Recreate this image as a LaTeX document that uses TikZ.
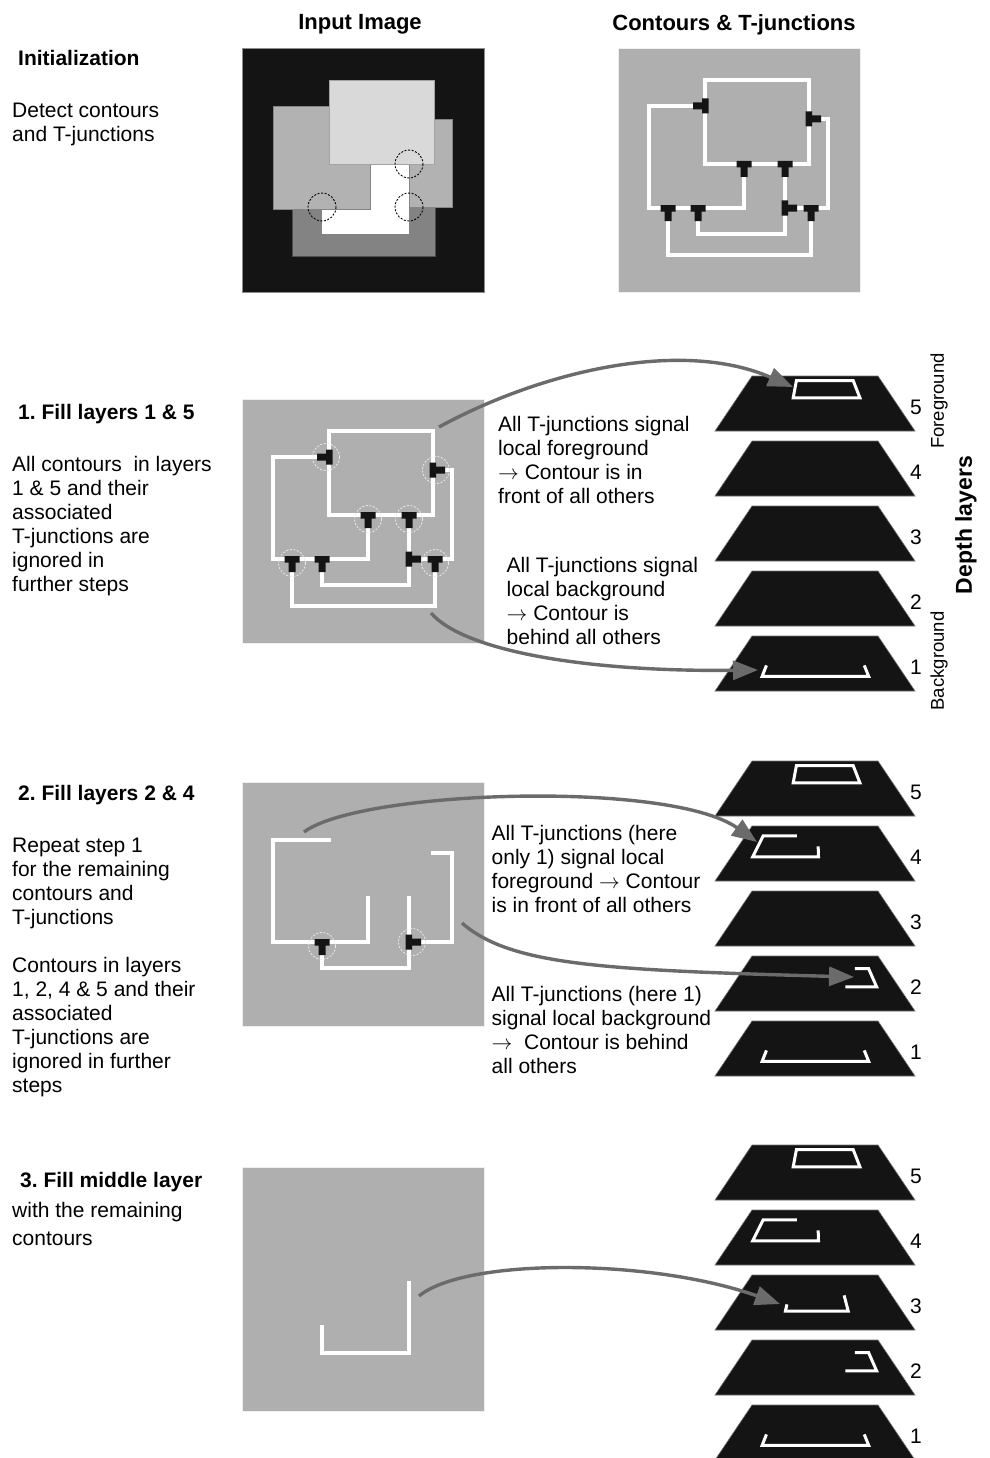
\documentclass[tikz,border=0pt]{standalone}
\usepackage{fontspec}
\setmainfont{Liberation Sans}
\usetikzlibrary{arrows.meta}
\frenchspacing
\definecolor{imgblack}{HTML}{141414}
\definecolor{panelgray}{HTML}{AFAFAF}
\definecolor{lightrect}{HTML}{D9D9D9}
\definecolor{midrect}{HTML}{B2B2B2}
\definecolor{darkrect}{HTML}{838383}
\definecolor{arrgray}{HTML}{6B6B6B}
\newcommand\myContA{\draw[cont] (87,32) rectangle (191,116);}
\newcommand\myContB{\draw[cont] (87,58) -- (31,58) -- (31,160) -- (126,160) -- (126,116);}
\newcommand\myContC{\draw[cont] (191,71) -- (210,71) -- (210,160) -- (167,160);}
\newcommand\myContD{\draw[cont] (167,116) -- (167,186) -- (80,186) -- (80,160);}
\newcommand\myContE{\draw[cont] (50,160) -- (50,207) -- (193,207) -- (193,160);}
\newcommand\myTS[2]{\fill[tj,shift={(#1,#2)}] (-7.5,-3) rectangle (7.5,3.5) (-3.5,3) rectangle (3.5,13);}
\newcommand\myTW[2]{\fill[tj,shift={(#1,#2)}] (-3,-7.5) rectangle (3.5,7.5) (-3,-3.5) rectangle (-12,3.5);}
\newcommand\myTE[2]{\fill[tj,shift={(#1,#2)}] (-3.5,-7.5) rectangle (3,7.5) (3,-3.5) rectangle (12,3.5);}
\newcommand\myLayer[1]{\fill[layerstyle] (752,#1) -- (878,#1) -- (915,#1+55) -- (715,#1+55) -- cycle;}
\newcommand\myLA[1]{\draw[lcont,shift={(0,#1)}] (796.4,4.6) -- (853.2,4.6) -- (859.9,21.8) -- (793.2,21.8) -- cycle;}
\newcommand\myLB[1]{\draw[lcont,shift={(0,#1)}] (795.4,9.9) -- (763.2,9.9) -- (752.7,30.8) -- (818.5,30.8) -- (818.2,21.8);}
\newcommand\myLC[1]{\draw[lcont,shift={(0,#1)}] (856.3,12.6) -- (868.6,12.6) -- (876.6,30.8) -- (846.8,30.8);}
\newcommand\myLD[1]{\draw[lcont,shift={(0,#1)}] (844.5,21.8) -- (848.2,36.1) -- (785.4,36.1) -- (786.6,30.8);}
\newcommand\myLE[1]{\draw[lcont,shift={(0,#1)}] (765.9,30.8) -- (762.1,40.4) -- (868.7,40.4) -- (864.8,30.8);}
\begin{document}
\begin{tikzpicture}[x=1pt,y=-1pt,
  cont/.style={draw=white,line width=3.2pt,line join=miter,line cap=rect},
  lcont/.style={draw=white,line width=3pt,line join=miter,line cap=rect},
  tj/.style={fill=imgblack},
  wcirc/.style={draw=white!92!black,line width=0.8pt,dash pattern=on 2pt off 1.6pt},
  bcirc/.style={draw=black,line width=0.9pt,dash pattern=on 2pt off 1.6pt},
  panel/.style={fill=panelgray,draw=white!80!panelgray,line width=0.8pt},
  layerstyle/.style={fill=imgblack,draw=black!55,line width=0.6pt},
  arr/.style={draw=arrgray,line width=3.4pt,-{Triangle[length=25pt,width=19pt]}},
  txt/.style={font=\fontsize{21}{24}\selectfont,inner sep=0pt,align=left,anchor=north west},
  bold/.style={font=\fontsize{21}{24}\selectfont\bfseries,inner sep=0pt,align=left,anchor=north west},
  head/.style={font=\fontsize{22}{24}\selectfont\bfseries,inner sep=0pt,anchor=base},
  num/.style={font=\fontsize{21}{24}\selectfont,inner sep=0pt}
]
\useasboundingbox (0,0) rectangle (989,1458);
\fill[white] (0,0) rectangle (989,1458);

% headers
\node[head] (hin) at (360,29.5) {Input Image};
\node[head] (hct) at (734,30.5) {Contours \& T-junctions};

% left texts
\node[bold] (t0) at (18,50.5) {Initialization};
\node[txt] (t0b) at (12,102.5) {Detect contours\\and T-junctions};
\node[bold] (t1) at (18,404) {1. Fill layers 1 \& 5};
\node[txt] (t1b) at (12,455.8) {All contours\ \ in layers\\1 \& 5 and their\\associated\\T-junctions are\\ignored in\\further steps};
\node[bold] (t2) at (18,785.5) {2. Fill layers 2 \& 4};
\node[txt] (t2b) at (12,837.5) {Repeat step 1\\for the remaining\\contours and\\T-junctions};
\node[txt] (t2c) at (12,957.5) {Contours in layers\\1, 2, 4 \& 5 and their\\associated\\T-junctions are\\ignored in further\\steps};
\node[bold] (t3) at (20,1172.5) {3. Fill middle layer};
\node[txt] (t3b) at (12,1202.5) {with the remaining};
\node[txt] (t3c) at (12,1231.5) {contours};

% middle texts
\node[txt] (m1) at (498,415.8) {All T-junctions signal\\local foreground\\$\rightarrow$ Contour is in\\front of all others};
\node[txt] (m2) at (506.5,557.5) {All T-junctions signal\\local background\\$\rightarrow$ Contour is\\behind all others};
\node[txt] (m3) at (491.5,825.2) {All T-junctions (here\\only 1) signal local\\foreground $\rightarrow$ Contour\\is in front of all others};
\node[txt] (m4) at (491.5,986.5) {All T-junctions (here 1)\\signal local background\\$\rightarrow$\ \ Contour is behind\\all others};

% input image
\begin{scope}[shift={(242,48)}]
  \fill[imgblack,draw=black!45,line width=0.8pt] (0,0) rectangle (242,244);
  \fill[darkrect,draw=black!40!darkrect,line width=0.5pt] (50,159) rectangle (193,208);
  \fill[white] (80,100) rectangle (167,186);
  \fill[midrect,draw=black!25!midrect,line width=0.5pt] (167,71) rectangle (210,159);
  \fill[midrect,draw=black!25!midrect,line width=0.5pt] (31,58) rectangle (128,161);
  \fill[lightrect,draw=black!25!lightrect,line width=0.5pt] (87,32) rectangle (192,116);
  \draw[bcirc] (167,116) circle[radius=14];
  \draw[bcirc] (80,159) circle[radius=14];
  \draw[bcirc] (167,159) circle[radius=14];
\end{scope}

% contours and T-junctions
\begin{scope}[shift={(618,48)}]
  \fill[panel] (0,0) rectangle (242,244);
  \myContA \myContB \myContC \myContD \myContE
  \myTW{87}{58} \myTE{191}{71} \myTS{126}{116} \myTS{167}{116}
  \myTS{50}{160} \myTS{80}{160} \myTE{167}{160} \myTS{193}{160}
\end{scope}

% step 1 panel
\begin{scope}[shift={(242,399)}]
  \fill[panel] (0,0) rectangle (242,244);
  \myContA \myContB \myContC \myContD \myContE
  \myTW{87}{58} \myTE{191}{71} \myTS{126}{116} \myTS{167}{116}
  \myTS{50}{160} \myTS{80}{160} \myTE{167}{160} \myTS{193}{160}
  \draw[wcirc] (84,58) circle[radius=13.5];
  \draw[wcirc] (194,71) circle[radius=13.5];
  \draw[wcirc] (126,120) circle[radius=13.5];
  \draw[wcirc] (167,120) circle[radius=13.5];
  \draw[wcirc] (50,164) circle[radius=13.5];
  \draw[wcirc] (193,164) circle[radius=13.5];
\end{scope}

% step 2 panel
\begin{scope}[shift={(242,782)}]
  \fill[panel] (0,0) rectangle (242,244);
  \myContB \myContC \myContD
  \myTS{80}{160} \myTE{167}{160}
  \draw[wcirc] (80,164) circle[radius=13.5];
  \draw[wcirc] (170,160) circle[radius=13.5];
\end{scope}

% step 3 panel
\begin{scope}[shift={(242,1167)}]
  \fill[panel] (0,0) rectangle (242,244);
  \myContD
\end{scope}

% stack 1
\foreach \t/\n in {376/5,441/4,506/3,571/2,636/1}{
  \myLayer{\t}
  \node[num] at (916,\t+31) {\n};
}
\myLA{376} \myLE{636}
\node[font=\fontsize{18.5}{20}\selectfont,rotate=90,inner sep=0pt] (fg) at (939,401) {Foreground};
\node[font=\fontsize{18.5}{20}\selectfont,rotate=90,inner sep=0pt] (bg) at (939,661) {Background};
\node[font=\fontsize{23}{24}\selectfont\bfseries,rotate=90,inner sep=0pt] (dl) at (966,525) {Depth layers};

% stack 2
\foreach \t/\n in {761/5,826/4,891/3,956/2,1021/1}{
  \myLayer{\t}
  \node[num] at (916,\t+31) {\n};
}
\myLA{761} \myLB{826} \myLC{956} \myLE{1021}

% stack 3
\foreach \t/\n in {1145/5,1210/4,1275/3,1340/2,1405/1}{
  \myLayer{\t}
  \node[num] at (916,\t+31) {\n};
}
\myLA{1145} \myLB{1210} \myLD{1275} \myLC{1340} \myLE{1405}

% arrows
\coordinate (a1s) at (439,427); \coordinate (a1e) at (793,387);
\coordinate (a2s) at (431,613); \coordinate (a2e) at (758,670);
\coordinate (a3s) at (304,832); \coordinate (a3e) at (757,842);
\coordinate (a4s) at (462,923); \coordinate (a4e) at (854,977);
\coordinate (a5s) at (419,1296); \coordinate (a5e) at (780,1304);
\draw[arr] (a1s) .. controls (540,372) and (680,338) .. (a1e);
\draw[arr] (a2s) .. controls (465,652) and (590,672) .. (a2e);
\draw[arr] (a3s) .. controls (360,790) and (670,780) .. (a3e);
\draw[arr] (a4s) .. controls (510,965) and (600,970) .. (a4e);
\draw[arr] (a5s) .. controls (465,1258) and (650,1258) .. (a5e);
\end{tikzpicture}
\end{document}
